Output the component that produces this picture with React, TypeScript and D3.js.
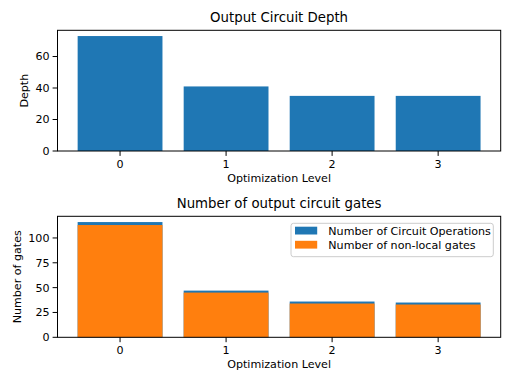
import React from "react";
import * as d3 from "d3";

// optimization levels on the x axis
const levels = ["0", "1", "2", "3"];
// output circuit depth per level
const depth = [73, 41, 35, 35];
// total circuit operations and non-local gates per level
const circuitOps = [116, 47, 36, 35];
const nonLocalGates = [113, 45, 34, 33];
const depthTicks = [0, 20, 40, 60];
const gateTicks = [0, 25, 50, 75, 100];

const W = 512;
const H = 384;
const FONT = "DejaVu Sans, sans-serif";
const BLUE = "#1f77b4";
const ORANGE = "#ff7f0e";

type PanelProps = {
  top: number;
  bottom: number;
  title: string;
  yLabel: string;
  yLabelX: number;
  ymax: number;
  ticks: number[];
  children: (x: d3.ScaleLinear<number, number>, y: d3.ScaleLinear<number, number>) => React.ReactNode;
};

const left = 57.5;
const right = 500.7;

function Panel(props: PanelProps) {
  const { top, bottom, title, yLabel, yLabelX, ymax, ticks } = props;
  // matplotlib bar margins: bars span -0.4..3.4, plus 5% padding
  const x = d3.scaleLinear().domain([-0.59, 3.59]).range([left, right]);
  const y = d3.scaleLinear().domain([0, ymax * 1.05]).range([bottom, top]);
  const midY = (top + bottom) / 2;
  return (
    <g>
      {props.children(x, y)}
      <rect x={left} y={top} width={right - left} height={bottom - top} fill="none" stroke="#000" strokeWidth={1} />
      {levels.map((l, i) => (
        <g key={l}>
          <line x1={x(i)} x2={x(i)} y1={bottom} y2={bottom + 4.9} stroke="#000" />
          <text x={x(i)} y={bottom + 17} textAnchor="middle" fontSize={11.1}>{l}</text>
        </g>
      ))}
      {ticks.map((t) => (
        <g key={t}>
          <line x1={left - 4.9} x2={left} y1={y(t)} y2={y(t)} stroke="#000" />
          <text x={left - 8} y={y(t)} dy="0.35em" textAnchor="end" fontSize={11.1}>{t}</text>
        </g>
      ))}
      <text x={(left + right) / 2} y={top - 8.3} textAnchor="middle" fontSize={13.3}>{title}</text>
      <text x={(left + right) / 2} y={bottom + 31} textAnchor="middle" fontSize={11.1}>Optimization Level</text>
      <text transform={`translate(${yLabelX},${midY}) rotate(-90)`} textAnchor="middle" fontSize={11.1}>{yLabel}</text>
    </g>
  );
}

export default function App() {
  const bw = 0.8;
  return (
    <svg width={W} height={H} style={{ position: "absolute", left: 0, top: 0, background: "#fff" }} fontFamily={FONT}>
      <rect width={W} height={H} fill="#fff" />
      <Panel top={30.3} bottom={151} title="Output Circuit Depth" yLabel="Depth" yLabelX={28} ymax={d3.max(depth)!} ticks={depthTicks}>
        {(x, y) =>
          depth.map((d, i) => (
            <rect key={i} x={x(i - bw / 2)} width={x(bw) - x(0)} y={y(d)} height={y(0) - y(d)} fill={BLUE} />
          ))
        }
      </Panel>
      <Panel top={216.3} bottom={337.3} title="Number of output circuit gates" yLabel="Number of gates" yLabelX={20.5} ymax={d3.max(circuitOps)!} ticks={gateTicks}>
        {(x, y) => (
          <g>
            {circuitOps.map((d, i) => (
              <rect key={"a" + i} x={x(i - bw / 2)} width={x(bw) - x(0)} y={y(d)} height={y(0) - y(d)} fill={BLUE} />
            ))}
            {nonLocalGates.map((d, i) => (
              <rect key={"b" + i} x={x(i - bw / 2)} width={x(bw) - x(0)} y={y(d)} height={y(0) - y(d)} fill={ORANGE} />
            ))}
            <g>
              <rect x={291} y={223.3} width={202.3} height={33.4} rx={2.5} fill="#fff" fillOpacity={0.8} stroke="#ccc" />
              <rect x={295} y={226.7} width={22.2} height={7.8} fill={BLUE} />
              <rect x={295} y={240.8} width={22.2} height={7.8} fill={ORANGE} />
              <text x={328.3} y={234.5} fontSize={11.1}>Number of Circuit Operations</text>
              <text x={328.3} y={248.6} fontSize={11.1}>Number of non-local gates</text>
            </g>
          </g>
        )}
      </Panel>
    </svg>
  );
}
